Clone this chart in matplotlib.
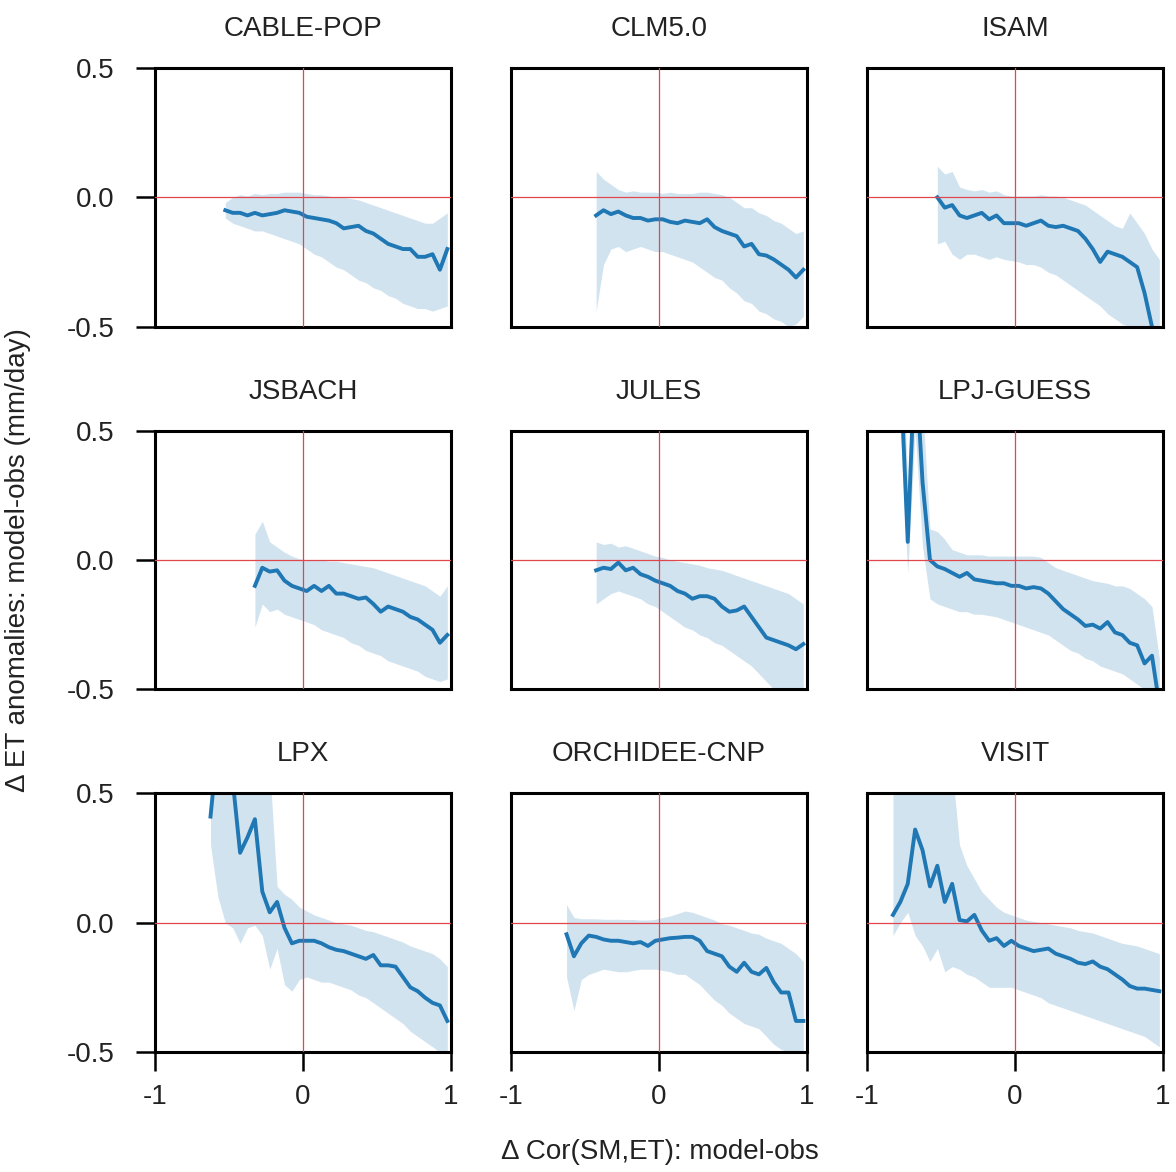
#!/usr/bin/env python3
import numpy as np
import matplotlib
matplotlib.use("Agg")
import matplotlib.pyplot as plt

plt.rcParams["font.family"] = ["Liberation Sans", "DejaVu Sans"]
plt.rcParams["axes.unicode_minus"] = False
plt.rcParams["text.color"] = "#222222"
plt.rcParams["xtick.labelcolor"] = "#222222"
plt.rcParams["ytick.labelcolor"] = "#222222"

# bin centres of the correlation difference, shared by every model
BIN_CENTRES = np.round(np.arange(-0.975, 1.0, 0.05), 3)

MODELS = ["CABLE-POP", "CLM5.0", "ISAM", "JSBACH", "JULES", "LPJ-GUESS",
          "LPX", "ORCHIDEE-CNP", "VISIT"]

# per-model binned mean and spread of ET anomalies (mm/day); each series ends at the last bin
cable_mean = [-0.05, -0.06, -0.06, -0.07, -0.06, -0.07, -0.065, -0.06, -0.05, -0.055, -0.06,
              -0.075, -0.08, -0.085, -0.09, -0.10, -0.12, -0.115, -0.11, -0.13, -0.14, -0.16,
              -0.18, -0.19, -0.20, -0.20, -0.23, -0.23, -0.22, -0.28, -0.20]
cable_lo = [-0.08, -0.10, -0.11, -0.12, -0.13, -0.13, -0.14, -0.15, -0.16, -0.17, -0.18,
            -0.20, -0.22, -0.23, -0.25, -0.27, -0.28, -0.30, -0.32, -0.33, -0.35, -0.36,
            -0.38, -0.39, -0.41, -0.42, -0.43, -0.43, -0.44, -0.43, -0.42]
cable_hi = [-0.02, 0.0, 0.01, 0.005, 0.015, 0.01, 0.015, 0.015, 0.02, 0.02, 0.02,
            0.015, 0.01, 0.01, 0.005, 0.0, 0.0, -0.005, -0.01, -0.02, -0.03, -0.04,
            -0.05, -0.06, -0.07, -0.08, -0.09, -0.10, -0.10, -0.08, -0.06]

clm_mean = [-0.07, -0.05, -0.065, -0.055, -0.07, -0.08, -0.08, -0.09, -0.085, -0.085,
            -0.095, -0.10, -0.09, -0.095, -0.10, -0.085, -0.115, -0.13, -0.14, -0.15,
            -0.19, -0.18, -0.22, -0.225, -0.24, -0.26, -0.28, -0.31, -0.28]
clm_lo = [-0.44, -0.26, -0.20, -0.19, -0.21, -0.20, -0.19, -0.20, -0.21, -0.21,
          -0.22, -0.23, -0.24, -0.25, -0.27, -0.29, -0.31, -0.32, -0.35, -0.37,
          -0.40, -0.41, -0.44, -0.45, -0.47, -0.48, -0.50, -0.49, -0.46]
clm_hi = [0.10, 0.07, 0.05, 0.03, 0.02, 0.025, 0.02, 0.02, 0.02, 0.015,
          0.02, 0.015, 0.015, 0.015, 0.02, 0.02, 0.015, 0.01, 0.0, -0.02,
          -0.04, -0.04, -0.06, -0.07, -0.09, -0.10, -0.12, -0.14, -0.13]

isam_mean = [0.0, -0.04, -0.03, -0.07, -0.08, -0.07, -0.06, -0.085, -0.07, -0.10, -0.10,
             -0.10, -0.11, -0.10, -0.09, -0.11, -0.115, -0.11, -0.12, -0.13, -0.16, -0.20,
             -0.25, -0.21, -0.22, -0.23, -0.25, -0.27, -0.37, -0.50, -0.62]
isam_lo = [-0.18, -0.17, -0.22, -0.24, -0.22, -0.22, -0.23, -0.24, -0.23, -0.24, -0.245,
           -0.25, -0.26, -0.26, -0.27, -0.29, -0.30, -0.32, -0.34, -0.36, -0.38, -0.40,
           -0.42, -0.45, -0.47, -0.49, -0.50, -0.52, -0.55, -0.60, -0.70]
isam_hi = [0.12, 0.09, 0.10, 0.04, 0.03, 0.025, 0.03, 0.02, 0.025, 0.01, 0.005,
           0.005, 0.005, 0.005, 0.01, 0.005, 0.005, 0.0, -0.01, -0.02, -0.03, -0.05,
           -0.07, -0.09, -0.11, -0.12, -0.06, -0.10, -0.14, -0.20, -0.24]

jsbach_mean = [-0.10, -0.03, -0.045, -0.04, -0.08, -0.10, -0.11, -0.12, -0.10, -0.12,
               -0.10, -0.13, -0.13, -0.14, -0.15, -0.145, -0.17, -0.20, -0.18, -0.19,
               -0.20, -0.22, -0.23, -0.25, -0.27, -0.32, -0.29]
jsbach_lo = [-0.26, -0.17, -0.20, -0.19, -0.21, -0.22, -0.23, -0.24, -0.25, -0.27,
             -0.28, -0.29, -0.30, -0.32, -0.33, -0.35, -0.36, -0.37, -0.39, -0.40,
             -0.41, -0.42, -0.43, -0.45, -0.46, -0.47, -0.46]
jsbach_hi = [0.10, 0.15, 0.07, 0.05, 0.03, 0.015, 0.005, 0.0, 0.0, 0.0,
             -0.005, -0.005, -0.01, -0.015, -0.02, -0.025, -0.03, -0.04, -0.05, -0.06,
             -0.07, -0.08, -0.09, -0.10, -0.12, -0.14, -0.10]

jules_mean = [-0.04, -0.03, -0.035, -0.01, -0.04, -0.03, -0.055, -0.065, -0.08, -0.09,
              -0.10, -0.12, -0.13, -0.15, -0.14, -0.14, -0.15, -0.18, -0.20, -0.195,
              -0.18, -0.22, -0.26, -0.30, -0.31, -0.32, -0.33, -0.345, -0.325]
jules_lo = [-0.17, -0.15, -0.13, -0.12, -0.13, -0.14, -0.15, -0.17, -0.18, -0.20,
            -0.22, -0.24, -0.26, -0.27, -0.29, -0.30, -0.32, -0.33, -0.35, -0.37,
            -0.39, -0.41, -0.44, -0.47, -0.50, -0.52, -0.54, -0.55, -0.55]
jules_hi = [0.07, 0.06, 0.065, 0.05, 0.055, 0.045, 0.035, 0.025, 0.015, 0.01,
            0.0, -0.005, -0.01, -0.015, -0.02, -0.03, -0.035, -0.04, -0.05, -0.06,
            -0.07, -0.08, -0.09, -0.10, -0.11, -0.12, -0.13, -0.15, -0.17]

lpjg_mean = [0.75, 0.07, 0.80, 0.30, 0.00, -0.025, -0.035, -0.05, -0.065, -0.05,
             -0.075, -0.08, -0.085, -0.09, -0.09, -0.10, -0.10, -0.11, -0.105, -0.11,
             -0.13, -0.16, -0.19, -0.21, -0.23, -0.255, -0.25, -0.265, -0.24, -0.28,
             -0.29, -0.32, -0.33, -0.40, -0.37, -0.56]
lpjg_lo = [0.50, -0.05, 0.50, 0.05, -0.15, -0.17, -0.18, -0.19, -0.20, -0.20,
           -0.21, -0.21, -0.215, -0.22, -0.23, -0.24, -0.25, -0.26, -0.27, -0.28,
           -0.29, -0.31, -0.33, -0.35, -0.36, -0.38, -0.39, -0.41, -0.42, -0.43,
           -0.44, -0.46, -0.48, -0.50, -0.52, -0.60]
lpjg_hi = [1.00, 0.30, 1.00, 0.60, 0.12, 0.11, 0.08, 0.04, 0.03, 0.02,
           0.02, 0.02, 0.015, 0.015, 0.015, 0.015, 0.015, 0.015, 0.015, 0.01,
           -0.01, -0.03, -0.04, -0.05, -0.06, -0.07, -0.08, -0.085, -0.09, -0.10,
           -0.10, -0.11, -0.13, -0.15, -0.18, -0.38]

lpx_mean = [0.41, 0.70, 0.75, 0.55, 0.27, 0.33, 0.40, 0.12, 0.04, 0.08, -0.02,
            -0.08, -0.07, -0.07, -0.07, -0.08, -0.095, -0.105, -0.11, -0.12, -0.13,
            -0.14, -0.125, -0.165, -0.165, -0.17, -0.21, -0.25, -0.265, -0.29, -0.31,
            -0.32, -0.38]
lpx_lo = [0.30, 0.10, 0.0, -0.02, -0.08, -0.02, -0.01, -0.05, -0.18, -0.10, -0.24,
          -0.265, -0.22, -0.21, -0.22, -0.23, -0.23, -0.24, -0.25, -0.26, -0.28,
          -0.29, -0.31, -0.33, -0.35, -0.37, -0.39, -0.42, -0.44, -0.46, -0.48,
          -0.50, -0.52]
lpx_hi = [0.90, 0.90, 0.90, 0.90, 0.90, 0.90, 0.90, 0.80, 0.60, 0.14, 0.11,
          0.09, 0.06, 0.045, 0.03, 0.02, 0.01, 0.0, -0.005, -0.01, -0.02,
          -0.03, -0.035, -0.045, -0.055, -0.065, -0.075, -0.09, -0.10, -0.11, -0.12,
          -0.14, -0.17]

orch_mean = [-0.045, -0.13, -0.08, -0.05, -0.055, -0.065, -0.07, -0.07, -0.075, -0.08,
             -0.075, -0.09, -0.07, -0.065, -0.06, -0.058, -0.055, -0.055, -0.07, -0.11,
             -0.12, -0.13, -0.17, -0.19, -0.155, -0.19, -0.20, -0.175, -0.23, -0.27,
             -0.27, -0.38, -0.38]
orch_lo = [-0.21, -0.34, -0.22, -0.20, -0.19, -0.18, -0.185, -0.19, -0.19, -0.185,
           -0.18, -0.18, -0.18, -0.185, -0.19, -0.20, -0.20, -0.22, -0.24, -0.27,
           -0.30, -0.32, -0.35, -0.37, -0.39, -0.40, -0.41, -0.44, -0.47, -0.49,
           -0.50, -0.52, -0.50]
orch_hi = [0.07, 0.02, 0.015, 0.015, 0.015, 0.013, 0.013, 0.013, 0.012, 0.012,
           0.01, 0.01, 0.013, 0.02, 0.026, 0.035, 0.045, 0.04, 0.03, 0.02,
           0.01, -0.005, -0.01, -0.02, -0.03, -0.04, -0.045, -0.06, -0.07, -0.08,
           -0.10, -0.12, -0.15]

visit_mean = [0.03, 0.08, 0.15, 0.36, 0.28, 0.14, 0.22, 0.08, 0.15, 0.01, 0.005, 0.03,
              -0.03, -0.07, -0.06, -0.09, -0.07, -0.09, -0.10, -0.11, -0.105, -0.10,
              -0.12, -0.13, -0.14, -0.155, -0.16, -0.15, -0.17, -0.18, -0.20, -0.22,
              -0.245, -0.255, -0.255, -0.26, -0.265]
visit_lo = [-0.05, 0.0, 0.04, -0.05, -0.09, -0.15, -0.10, -0.19, -0.17, -0.18, -0.20, -0.21,
            -0.23, -0.25, -0.25, -0.25, -0.25, -0.26, -0.27, -0.28, -0.29, -0.31,
            -0.32, -0.33, -0.34, -0.35, -0.36, -0.37, -0.38, -0.39, -0.40, -0.41,
            -0.42, -0.43, -0.44, -0.46, -0.48]
visit_hi = [0.60, 0.70, 0.80, 0.80, 0.80, 0.80, 0.80, 0.70, 0.60, 0.30, 0.22, 0.17,
            0.12, 0.09, 0.06, 0.04, 0.03, 0.02, 0.01, 0.005, 0.0, -0.005,
            -0.01, -0.015, -0.02, -0.03, -0.035, -0.04, -0.05, -0.06, -0.07, -0.08,
            -0.085, -0.09, -0.10, -0.11, -0.12]

SERIES = [
    (cable_mean, cable_lo, cable_hi),
    (clm_mean, clm_lo, clm_hi),
    (isam_mean, isam_lo, isam_hi),
    (jsbach_mean, jsbach_lo, jsbach_hi),
    (jules_mean, jules_lo, jules_hi),
    (lpjg_mean, lpjg_lo, lpjg_hi),
    (lpx_mean, lpx_lo, lpx_hi),
    (orch_mean, orch_lo, orch_hi),
    (visit_mean, visit_lo, visit_hi),
]

LINE_COLOR = "#1f77b4"
CROSS_COLOR = "#e0474c"
FS = 20

fig, axes = plt.subplots(3, 3, figsize=(11.76, 11.72), dpi=100)
fig.subplots_adjust(left=0.1318, right=0.989, top=0.942, bottom=0.1024,
                    wspace=0.2027, hspace=0.402)

for k, (ax, name, (mean, lo, hi)) in enumerate(zip(axes.flat, MODELS, SERIES)):
    row, col = divmod(k, 3)
    x = BIN_CENTRES[-len(mean):]
    ax.fill_between(x, lo, hi, color=LINE_COLOR, alpha=0.2, linewidth=0)
    ax.plot(x, mean, color=LINE_COLOR, lw=2.8, solid_joinstyle="round")
    ax.axhline(0, color=CROSS_COLOR, lw=0.9, zorder=3)
    ax.axvline(0, color=CROSS_COLOR, lw=0.9, zorder=3)
    ax.set_xlim(-1, 1)
    ax.set_ylim(-0.5, 0.5)
    ax.set_title(name, fontsize=FS, pad=23)
    for sp in ax.spines.values():
        sp.set_linewidth(2.2)
        sp.set_color("black")
    ax.set_xticks([-1, 0, 1])
    ax.set_yticks([-0.5, 0.0, 0.5])
    ax.set_xticklabels(["-1", "0", "1"])
    ax.set_yticklabels(["-0.5", "0.0", "0.5"])
    ax.tick_params(direction="out", length=14, width=1.8, labelsize=FS)
    ax.tick_params(axis="y", pad=15)
    ax.tick_params(axis="x", pad=9)
    if col != 0:
        ax.tick_params(axis="y", left=False, labelleft=False)
    if row != 2:
        ax.tick_params(axis="x", bottom=False, labelbottom=False)

fig.text(0.0153, 0.522, "Δ ET anomalies: model-obs (mm/day)", rotation=90,
         ha="center", va="center", fontsize=FS)
fig.text(0.561, 0.017, "Δ Cor(SM,ET): model-obs", ha="center", va="center",
         fontsize=FS)

fig.savefig("out.png", dpi=100, facecolor="white")
